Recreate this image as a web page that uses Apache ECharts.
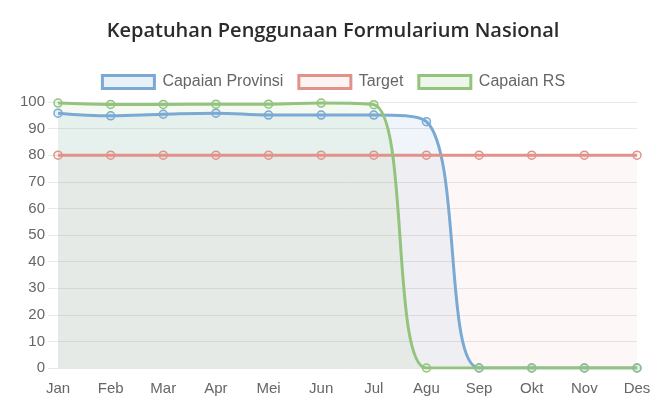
<!DOCTYPE html>
<html>
<head>
<meta charset="utf-8">
<script src="https://cdn.jsdelivr.net/npm/echarts@6/dist/echarts.min.js"></script>
<style>
html, body { margin: 0; padding: 0; background: #fff; }
#main { width: 666px; height: 415px; }
</style>
</head>
<body>
<div id="main"></div>
<script>
// data
var bulan = ['Jan', 'Feb', 'Mar', 'Apr', 'Mei', 'Jun', 'Jul', 'Agu', 'Sep', 'Okt', 'Nov', 'Des'];
var capaianProvinsi = [95.8, 94.8, 95.4, 95.8, 95.1, 95.1, 95.1, 92.6, 0, 0, 0, 0];
var target = [80, 80, 80, 80, 80, 80, 80, 80, 80, 80, 80, 80];
var capaianRS = [99.6, 99.1, 99.1, 99.2, 99.2, 99.6, 99.0, 0, 0, 0, 0, 0];
var yTicks = [0, 10, 20, 30, 40, 50, 60, 70, 80, 90, 100];

var fontAxis = 'Liberation Sans, Arial, sans-serif';

function seri(nama, data, garis, isi) {
	return {
		name: nama,
		type: 'line',
		data: data,
		smooth: 0.4,
		symbol: 'circle',
		symbolSize: 8,
		lineStyle: { color: garis, width: 3 },
		itemStyle: { color: isi, borderColor: garis, borderWidth: 1.5 },
		areaStyle: { color: isi, origin: 'start' },
		emphasis: { disabled: true }
	};
}

var myChart = echarts.init(document.getElementById('main'));
myChart.setOption({
	animation: false,
	title: {
		text: 'Kepatuhan Penggunaan Formularium Nasional',
		left: 'center',
		top: 16,
		textStyle: {
			fontFamily: 'Open Sans, sans-serif',
			fontWeight: 600,
			fontSize: 20,
			color: '#2b2b2b'
		}
	},
	legend: {
		top: 69,
		left: 'center',
		itemWidth: 52,
		itemHeight: 13,
		itemGap: 14,
		icon: 'rect',
		textStyle: { fontFamily: fontAxis, fontSize: 16, color: '#666', padding: [0, 0, 0, 3] },
		data: [
			{ name: 'Capaian Provinsi', itemStyle: { color: 'rgba(122,170,211,0.17)', borderColor: '#7aaad3', borderWidth: 3 } },
			{ name: 'Target', itemStyle: { color: 'rgba(225,146,138,0.1)', borderColor: '#e1928a', borderWidth: 3 } },
			{ name: 'Capaian RS', itemStyle: { color: 'rgba(147,196,125,0.15)', borderColor: '#93c47d', borderWidth: 3 } }
		]
	},
	grid: { left: 58, right: 29, top: 102, bottom: 47 },
	xAxis: {
		type: 'category',
		data: bulan,
		boundaryGap: false,
		axisLine: { show: false },
		axisTick: { show: false },
		axisLabel: { fontFamily: fontAxis, fontSize: 15, color: '#666', margin: 13 },
		splitLine: { show: false }
	},
	yAxis: {
		type: 'value',
		min: yTicks[0],
		max: yTicks[yTicks.length - 1],
		interval: 10,
		axisLine: { show: false },
		axisTick: { show: true, length: 10, lineStyle: { color: '#e8e8e8' } },
		axisLabel: { fontFamily: fontAxis, fontSize: 15, color: '#666', margin: 13 },
		splitLine: { lineStyle: { color: '#e8e8e8', width: 1 } }
	},
	series: [
		seri('Capaian Provinsi', capaianProvinsi, '#7aaad3', 'rgba(122,170,211,0.17)'),
		seri('Target', target, '#e1928a', 'rgba(225,146,138,0.1)'),
		seri('Capaian RS', capaianRS, '#93c47d', 'rgba(147,196,125,0.15)')
	]
});
</script>
</body>
</html>
